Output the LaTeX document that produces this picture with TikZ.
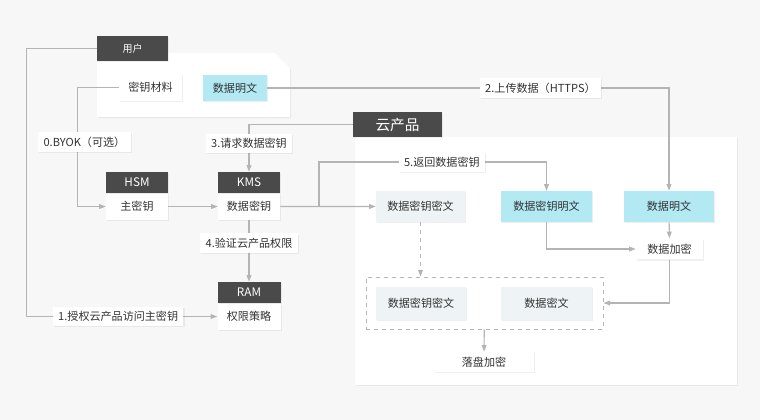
\documentclass[tikz,border=0pt]{standalone}
\usepackage{fontspec}
\setmainfont{Noto Sans CJK SC}
\usetikzlibrary{arrows.meta,shadows,positioning}
\definecolor{bggray}{HTML}{F7F7F7}
\definecolor{darkhead}{HTML}{4A4A4A}
\definecolor{cyanbox}{HTML}{B2E9F3}
\definecolor{palebox}{HTML}{EEF3F5}
\definecolor{linegray}{HTML}{B4B4B4}
\definecolor{txtgray}{HTML}{333333}
\tikzset{
  sz/.style 2 args={minimum width=#1*0.75pt, minimum height=#2*0.75pt},
  soft/.style={drop shadow={opacity=0.12, shadow xshift=0.8pt, shadow yshift=-0.8pt}},
  box/.style={fill=white, text=txtgray, inner sep=0pt, soft, font=\fontsize{8.3}{10}\selectfont},
  cyanb/.style={box, fill=cyanbox},
  paleb/.style={box, fill=palebox},
  head/.style={fill=darkhead, text=white, inner sep=0pt, soft, font=\fontsize{8.8}{10}\selectfont},
  lbl/.style={box, inner xsep=4pt, inner ysep=3.5pt},
  grp/.style={draw=linegray, dashed, line width=0.7pt, inner sep=0pt},
  link/.style={draw=linegray, line width=0.8pt, -{Triangle[length=5pt,width=3.6pt]}},
}
\begin{document}
\begin{tikzpicture}[x=0.75pt, y=-0.75pt]
  \fill[bggray] (0,0) rectangle (760,420);
  \useasboundingbox (0,0) rectangle (760,420);

  % user side
  \fill[white, soft] (97,53) -- (275,53) -- (290,68) -- (290,117) -- (97,117) -- cycle;
  \node[head, sz={71}{25}, font=\fontsize{7.5}{9}\selectfont] (user) at (132.5,48.5) {用户};
  \node[box, sz={63}{27}] (keymat) at (150.5,87.5) {密钥材料};
  \node[cyanb, sz={64}{26}] (plain) at (235,88) {数据明文};

  % KMS side
  \node[head, sz={62}{21}] (hsm) at (137,182.5) {HSM};
  \node[box, sz={62}{26}, below=0pt of hsm] (cmk) {主密钥};
  \node[head, sz={62}{21}] (kms) at (249,182.5) {KMS};
  \node[box, sz={62}{26}, below=0pt of kms] (dkey) {数据密钥};
  \node[head, sz={63}{21}] (ram) at (249,292.5) {RAM};
  \node[box, sz={63}{26}, below=0pt of ram] (policy) {权限策略};

  % cloud product
  \fill[white, soft] (355,137) rectangle (737,385);
  \node[head, sz={89}{25}, font=\fontsize{11}{12}\selectfont] (cloud) at (397.5,124.5) {云产品};
  \node[paleb, sz={89}{31}] (encdk) at (420.5,206.5) {数据密钥密文};
  \node[cyanb, sz={91}{31}] (plaindk) at (546.5,206.5) {数据密钥明文};
  \node[cyanb, sz={90}{31}] (plaind) at (669,206.5) {数据明文};
  \node[box, sz={67}{21}] (encrypt) at (669.5,249) {数据加密};
  \node[grp, sz={237}{52}] (store) at (484.5,303) {};
  \node[paleb, sz={90}{33}] (encdk2) at (421,303.5) {数据密钥密文};
  \node[paleb, sz={91}{33}] (cipher) at (546.5,303.5) {数据密文};
  \node[box, sz={100}{20}] (disk) at (484,362) {落盘加密};
  \coordinate (fork) at (319,206);

  \draw[link] (user.west) -- ++(-70,0) |- node[lbl, pos=0.74] {1.授权云产品访问主密钥} (policy.west);
  \draw[link] (keymat.west) -- ++(-41,0) |- node[lbl, pos=0.23, xshift=5pt] {0.BYOK（可选）} (cmk.west);
  \draw[link] (cmk) -- (dkey);
  \draw[link] (plain) -| node[lbl, pos=0.34] {2.上传数据（HTTPS）} (plaind.north);
  \draw[link] (cloud.west) -| node[lbl, pos=0.7] {3.请求数据密钥} (kms.north);
  \draw[link] (dkey) -- node[lbl, pos=0.38] {4.验证云产品权限} (ram);
  \draw[link] (dkey) -- (encdk);
  \draw[link] (fork) -- ++(0,-44) -| node[lbl, pos=0.27] {5.返回数据密钥} (plaindk.north);
  \draw[link, dashed] (encdk) -- (encdk.south |- store.north);
  \draw[link] (plaindk) |- (encrypt);
  \draw[link] (plaind) -- (encrypt);
  \draw[link] (encrypt) |- (store.east);
  \draw[link] (store) -- (disk);
\end{tikzpicture}
\end{document}
